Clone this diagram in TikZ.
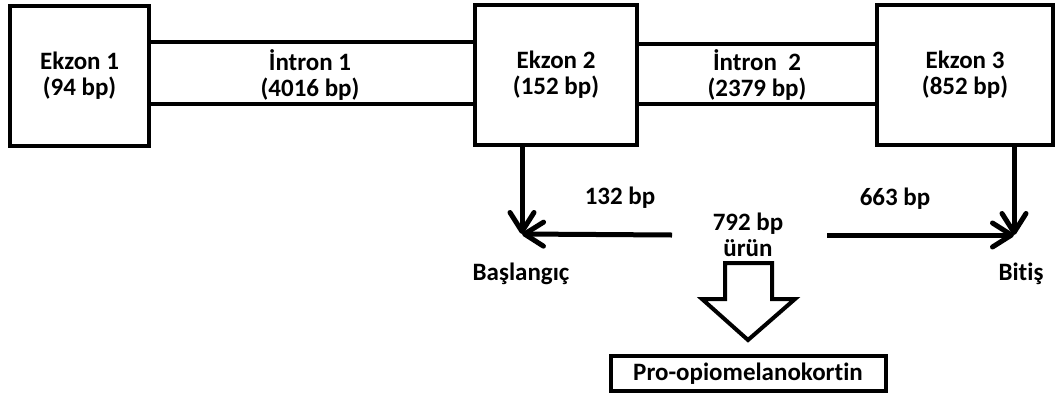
\documentclass[tikz,border=0pt]{standalone}
\usepackage{fontspec}
\setmainfont{Carlito}[Ligatures=NoCommon]
\usetikzlibrary{arrows.meta}
\begin{document}
\begin{tikzpicture}[x=1pt, y=-1pt,
  box/.style={draw, line width=4pt, inner sep=0pt, align=center, font=\bfseries\fontsize{25}{26}\selectfont},
  lbl/.style={align=center, font=\bfseries\fontsize{25}{26}\selectfont},
  arr/.style={line width=5pt, line join=round, -{Straight Barb[length=19pt, width=24pt, round]}}]
\useasboundingbox (0,0) rectangle (1060,408);

% Exon boxes
\node[box, minimum width=139pt, minimum height=140pt] (e1) at (79.5,76) {Ekzon 1\\(94 bp)};
\node[box, minimum width=162pt, minimum height=140pt] (e2) at (556,74.5) {Ekzon 2\\(152 bp)};
\node[box, minimum width=176pt, minimum height=140pt] (e3) at (965,75) {Ekzon 3\\(852 bp)};

% Introns between the boxes
\draw[line width=4pt] (e1.east |- 0,42) -- (e2.west |- 0,42);
\draw[line width=4pt] (e1.east |- 0,104) -- (e2.west |- 0,104);
\node[lbl] (i1) at (310,75) {İntron 1\\(4016 bp)};
\draw[line width=4pt] (e2.east |- 0,44) -- (e3.west |- 0,44);
\draw[line width=4pt] (e2.east |- 0,104) -- (e3.west |- 0,104);
\node[lbl] (i2) at (757,75) {İntron~~2\\(2379 bp)};

% Start and end of the product
\coordinate (start) at (522,234);
\coordinate (end) at (1014,235);
\node[lbl] (prod) at (748,235) {792 bp\\ürün};
\coordinate (l0) at (672,235);
\coordinate (r0) at (827,235);
\draw[arr] (start |- e2.south) -- (start);
\draw[arr] (l0) -- (start);
\draw[arr] (end |- e3.south) -- (end);
\draw[arr] (r0) -- (end);
\node[lbl] (p1) at (620,198) {132 bp};
\node[lbl] (p2) at (895,199) {663 bp};
\node[lbl] (beg) at (521,274) {Başlangıç};
\node[lbl] (fin) at (1021,274) {Bitiş};

% Protein
\node[box, minimum width=275pt, minimum height=35pt] (pomc) at (748,373.5) {Pro-opiomelanokortin};
\draw[line width=4pt, line join=miter] (725,263) -- (772,263) -- (772,299) -- (795,299) -- (748,340) -- (702,299) -- (725,299) -- cycle;
\end{tikzpicture}
\end{document}
